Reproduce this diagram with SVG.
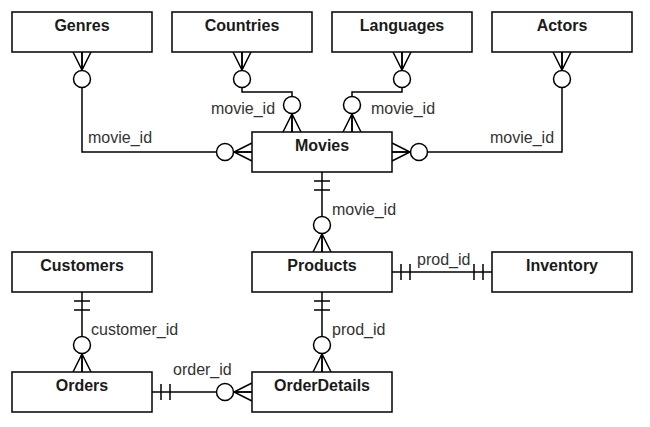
<svg xmlns="http://www.w3.org/2000/svg" xmlns:xlink="http://www.w3.org/1999/xlink" width="650" height="427" viewBox="0 0 650 427">
<style>
.box{fill:#fff;stroke:#000;stroke-width:1.5}
.title{font-family:"Liberation Sans",Arial,sans-serif;font-size:16px;font-weight:bold;fill:#1a1a1a;text-anchor:middle}
.lbl{font-family:"Liberation Sans",Arial,sans-serif;font-size:16px;fill:#333}
.ln{fill:none;stroke:#000;stroke-width:1.5}
.mk{fill:#fff;stroke:#000;stroke-width:1.5}
</style>
<defs>
<g id="zm">
<path class="ln" d="M-9,0L0,18L9,0M0,0V18"/>
<circle class="mk" cx="0" cy="27" r="8.5"/>
</g>
<g id="one">
<path class="ln" d="M-8,9H8M-8,18H8"/>
</g>
</defs>
<rect width="650" height="427" fill="#fff"/>
<g id="connectors">
<path class="ln" d="M82,52V152H252"/>
<path class="ln" d="M242,52V92H292V132"/>
<path class="ln" d="M402,52V92H352V132"/>
<path class="ln" d="M562,52V152H392"/>
<path class="ln" d="M322,172V252"/>
<path class="ln" d="M392,272H492"/>
<path class="ln" d="M322,292V372"/>
<path class="ln" d="M82,292V372"/>
<path class="ln" d="M152,392H252"/>
<use xlink:href="#zm" transform="translate(82,52)"/>
<use xlink:href="#zm" transform="translate(242,52)"/>
<use xlink:href="#zm" transform="translate(402,52)"/>
<use xlink:href="#zm" transform="translate(562,52)"/>
<use xlink:href="#zm" transform="translate(292,132) rotate(180)"/>
<use xlink:href="#zm" transform="translate(352,132) rotate(180)"/>
<use xlink:href="#zm" transform="translate(252,152) rotate(90)"/>
<use xlink:href="#zm" transform="translate(392,152) rotate(-90)"/>
<use xlink:href="#zm" transform="translate(322,252) rotate(180)"/>
<use xlink:href="#zm" transform="translate(322,372) rotate(180)"/>
<use xlink:href="#zm" transform="translate(82,372) rotate(180)"/>
<use xlink:href="#zm" transform="translate(252,392) rotate(90)"/>
<use xlink:href="#one" transform="translate(322,172)"/>
<use xlink:href="#one" transform="translate(392,272) rotate(-90)"/>
<use xlink:href="#one" transform="translate(492,272) rotate(90)"/>
<use xlink:href="#one" transform="translate(322,292)"/>
<use xlink:href="#one" transform="translate(82,292)"/>
<use xlink:href="#one" transform="translate(152,392) rotate(-90)"/>
<text class="lbl" x="88" y="143">movie_id</text>
<text class="lbl" x="211" y="114">movie_id</text>
<text class="lbl" x="371" y="114">movie_id</text>
<text class="lbl" x="490" y="143">movie_id</text>
<text class="lbl" x="332" y="215">movie_id</text>
<text class="lbl" x="417" y="265">prod_id</text>
<text class="lbl" x="332" y="335">prod_id</text>
<text class="lbl" x="91" y="335">customer_id</text>
<text class="lbl" x="173" y="375">order_id</text>
</g>
<g id="Genres"><rect class="box" x="12" y="12" width="140" height="40"/><text class="title" x="82" y="30.5">Genres</text></g>
<g id="Countries"><rect class="box" x="172" y="12" width="140" height="40"/><text class="title" x="242" y="30.5">Countries</text></g>
<g id="Languages"><rect class="box" x="332" y="12" width="140" height="40"/><text class="title" x="402" y="30.5">Languages</text></g>
<g id="Actors"><rect class="box" x="492" y="12" width="140" height="40"/><text class="title" x="562" y="30.5">Actors</text></g>
<g id="Movies"><rect class="box" x="252" y="132" width="140" height="40"/><text class="title" x="322" y="150.5">Movies</text></g>
<g id="Customers"><rect class="box" x="12" y="252" width="140" height="40"/><text class="title" x="82" y="270.5">Customers</text></g>
<g id="Products"><rect class="box" x="252" y="252" width="140" height="40"/><text class="title" x="322" y="270.5">Products</text></g>
<g id="Inventory"><rect class="box" x="492" y="252" width="140" height="40"/><text class="title" x="562" y="270.5">Inventory</text></g>
<g id="Orders"><rect class="box" x="12" y="372" width="140" height="40"/><text class="title" x="82" y="390.5">Orders</text></g>
<g id="OrderDetails"><rect class="box" x="252" y="372" width="140" height="40"/><text class="title" x="322" y="390.5">OrderDetails</text></g>
</svg>
